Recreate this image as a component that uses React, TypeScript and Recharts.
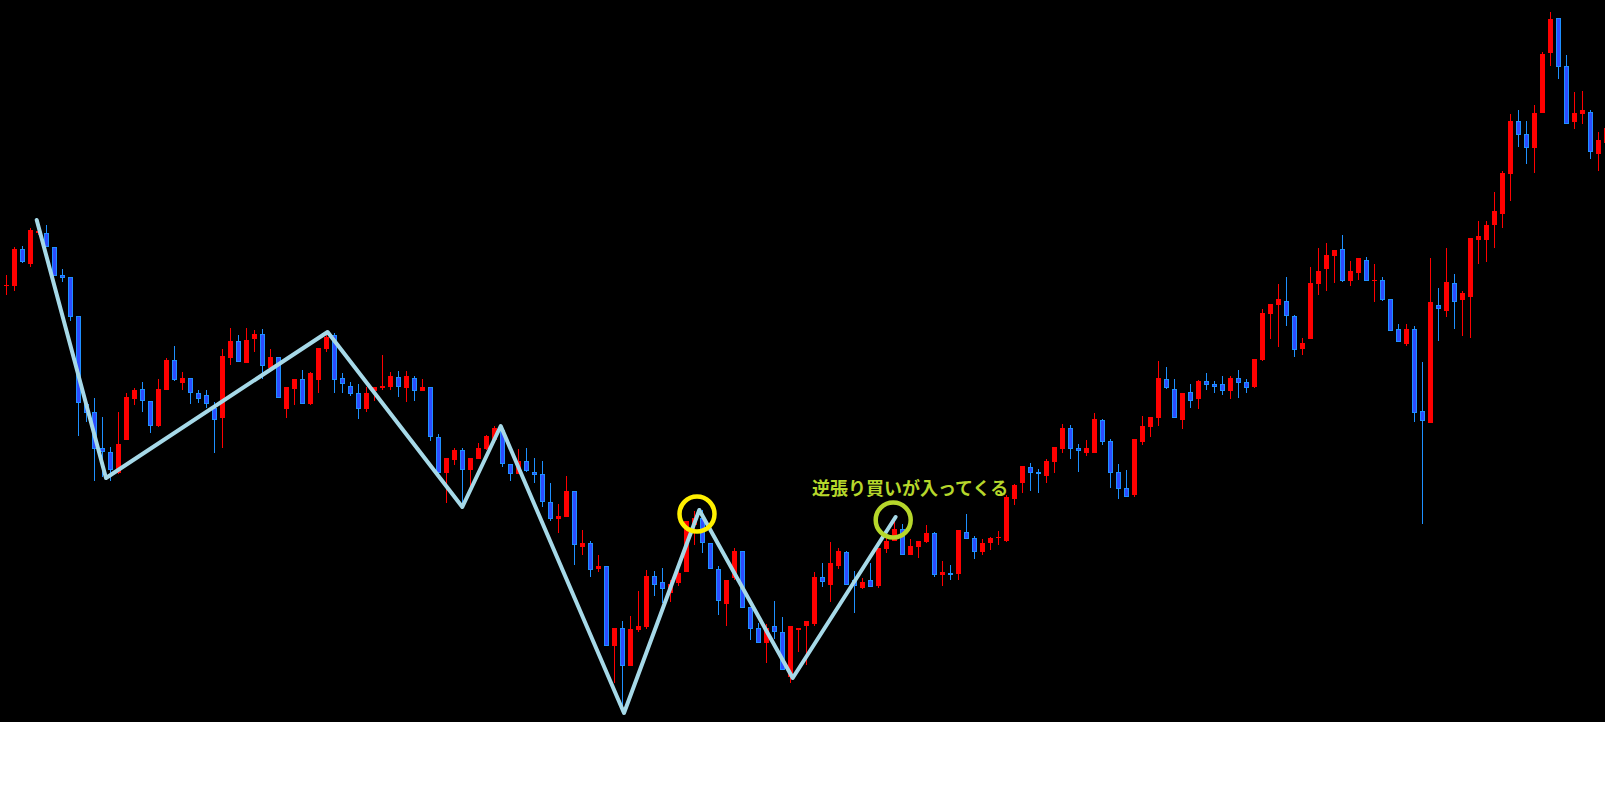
import { Bar, ComposedChart, ReferenceDot, Scatter, XAxis, YAxis } from "recharts";

// candle index 0..200, prices
const opens = [
  436, 436, 473, 458, 489, 489, 475, 447, 445, 406,
  318, 310, 274, 270, 249, 282, 323, 333, 321, 296,
  332, 362, 339, 344, 329, 327, 314, 304, 364, 381,
  359, 383, 388, 354, 365, 313, 333, 343, 318, 342,
  373, 387, 344, 336, 329, 313, 331, 334, 335, 345,
  334, 344, 331, 335, 285, 249, 262, 272, 252, 263,
  273, 282, 292, 258, 248, 261, 250, 248, 220, 203,
  205, 231, 175, 179, 153, 156, 76, 94, 56, 92,
  95, 146, 140, 129, 139, 150, 197, 204, 179, 153,
  118, 144, 171, 115, 94, 79, 96, 90, 45, 92,
  96, 98, 145, 137, 156, 170, 142, 134, 142, 136,
  173, 181, 193, 167, 175, 180, 189, 147, 149, 148,
  190, 184, 170, 179, 184, 181, 223, 239, 255, 250,
  246, 260, 273, 294, 274, 269, 269, 302, 281, 250,
  234, 227, 280, 295, 304, 343, 333, 302, 330, 323,
  341, 338, 338, 331, 344, 340, 335, 362, 408, 417,
  421, 406, 373, 383, 438, 453, 466, 473, 441, 449,
  462, 441, 442, 423, 393, 378, 393, 311, 299, 417,
  411, 439, 422, 425, 482, 482, 497, 508, 548, 601,
  588, 574, 609, 669, 704, 656, 600, 608, 610, 568,
  579,
];

const highs = [
  447, 475, 476, 494, 501, 497, 475, 453, 445, 406,
  319, 324, 305, 275, 310, 329, 334, 340, 321, 343,
  364, 376, 350, 344, 332, 332, 320, 373, 394, 387,
  394, 392, 393, 373, 365, 335, 343, 352, 350, 374,
  389, 389, 349, 340, 338, 335, 335, 367, 350, 351,
  351, 346, 343, 335, 288, 264, 274, 274, 264, 279,
  287, 296, 294, 258, 273, 274, 264, 261, 239, 218,
  246, 231, 192, 181, 167, 156, 94, 101, 106, 131,
  152, 151, 154, 142, 152, 201, 211, 212, 179, 156,
  142, 174, 171, 115, 99, 98, 121, 105, 96, 94,
  101, 150, 159, 180, 174, 171, 151, 144, 159, 174,
  185, 200, 198, 183, 181, 197, 190, 161, 157, 192,
  208, 186, 183, 185, 191, 227, 238, 256, 259, 253,
  263, 275, 298, 297, 278, 282, 309, 303, 283, 258,
  252, 283, 306, 305, 361, 355, 343, 329, 338, 342,
  349, 341, 346, 346, 352, 343, 363, 413, 418, 438,
  445, 407, 384, 455, 474, 479, 472, 487, 461, 464,
  465, 458, 445, 423, 398, 398, 396, 360, 464, 434,
  474, 448, 431, 484, 501, 501, 530, 551, 608, 612,
  601, 617, 670, 710, 704, 667, 630, 631, 612, 590,
  597,
];

const lows = [
  427, 431, 459, 455, 487, 475, 446, 440, 401, 286,
  300, 241, 245, 241, 248, 282, 317, 310, 289, 295,
  332, 341, 332, 318, 319, 314, 269, 274, 357, 360,
  359, 370, 343, 350, 324, 304, 317, 318, 317, 329,
  370, 329, 329, 326, 303, 310, 321, 332, 332, 325,
  320, 321, 331, 281, 248, 219, 257, 215, 236, 263,
  272, 282, 255, 241, 248, 250, 239, 215, 201, 189,
  205, 157, 167, 145, 150, 76, 39, 9, 56, 90,
  93, 126, 119, 120, 136, 150, 177, 169, 153, 107,
  96, 142, 114, 82, 79, 59, 83, 52, 39, 70,
  57, 96, 135, 120, 153, 137, 109, 133, 135, 134,
  169, 181, 167, 167, 164, 179, 145, 136, 142, 142,
  183, 163, 167, 172, 177, 180, 217, 229, 231, 229,
  239, 249, 269, 263, 250, 266, 269, 277, 234, 223,
  225, 225, 277, 285, 296, 333, 304, 293, 314, 313,
  332, 329, 327, 323, 324, 329, 334, 361, 383, 375,
  396, 365, 367, 383, 427, 431, 439, 440, 436, 442,
  441, 420, 421, 391, 380, 376, 300, 198, 299, 381,
  405, 393, 386, 384, 458, 460, 474, 494, 521, 575,
  558, 549, 609, 656, 643, 598, 593, 598, 563, 551,
  577,
];

const closes = [
  437, 473, 460, 492, 491, 475, 446, 444, 405, 319,
  309, 273, 270, 252, 278, 325, 332, 321, 296, 333,
  362, 342, 344, 329, 323, 318, 302, 366, 381, 360,
  382, 388, 356, 365, 324, 335, 343, 318, 349, 374,
  385, 342, 338, 328, 313, 329, 335, 336, 346, 335,
  346, 331, 335, 285, 249, 264, 272, 252, 264, 274,
  286, 294, 258, 248, 261, 251, 247, 220, 203, 206,
  231, 177, 179, 152, 156, 76, 94, 56, 93, 96,
  146, 137, 133, 138, 149, 201, 204, 179, 153, 121,
  142, 171, 114, 93, 79, 94, 90, 52, 96, 94,
  101, 145, 140, 159, 171, 137, 136, 140, 135, 174,
  181, 193, 167, 176, 181, 189, 147, 150, 147, 192,
  183, 170, 179, 184, 185, 225, 237, 256, 249, 248,
  261, 275, 294, 273, 271, 274, 303, 280, 249, 233,
  225, 283, 296, 305, 344, 334, 304, 329, 321, 341,
  337, 335, 331, 344, 339, 334, 363, 409, 418, 423,
  406, 372, 379, 439, 451, 467, 472, 441, 451, 464,
  441, 442, 422, 391, 380, 393, 309, 301, 420, 413,
  440, 420, 429, 484, 486, 497, 511, 549, 601, 587,
  574, 609, 668, 703, 655, 598, 609, 612, 570, 582,
  594,
];

// zigzag turning points (candle position, price)
const zigX = [3.84, 12.5, 40.2, 57.04, 61.84, 77.25, 86.66, 98.34, 111.2];
const zigP = [502, 244, 390, 215, 296, 9, 212, 44, 205];

// highlighted spots
const markX = [86.375, 110.9];
const markP = [208, 202];

const note = "逆張り買いが入ってくる";

const UP = "#ff0000";
const DOWN_FILL = "#2d4cff";
const DOWN_EDGE = "#1e90ff";
const ZIG = "#a6d9e8";
const YELLOW = "#fff000";
const LIME = "#b6d72b";

const candles = opens.map((o, i) => ({
  k: i,
  o,
  h: highs[i],
  l: lows[i],
  c: closes[i],
  range: [lows[i], highs[i]],
}));

const zigzag = zigX.map((k, i) => ({ k, p: zigP[i] }));

function Candle(props: any) {
  const { x, y, width, height, payload } = props;
  if (!payload || x == null || y == null) return <g />;
  const { o, h, l, c } = payload;
  const top = Math.min(y, y + height);
  const bottom = Math.max(y, y + height);
  const unit = h > l ? (bottom - top) / (h - l) : 0;
  const yAt = (v: number) => top + (h - v) * unit;
  const cx = Math.round(x + width / 2);
  const up = c >= o;
  const bTop = Math.round(yAt(Math.max(o, c)));
  const bBot = Math.max(bTop + 1, Math.round(yAt(Math.min(o, c))));
  const wTop = Math.round(top);
  const wBot = Math.max(wTop + 1, Math.round(bottom));
  return (
    <g>
      <rect x={cx} y={wTop} width={1} height={wBot - wTop} fill={up ? UP : DOWN_EDGE} />
      {up ? (
        <rect x={cx - 2} y={bTop} width={5} height={bBot - bTop} fill={UP} />
      ) : (
        <rect
          x={cx - 1.5}
          y={bTop + 0.5}
          width={4}
          height={Math.max(0.5, bBot - bTop - 1)}
          fill={DOWN_FILL}
          stroke={DOWN_EDGE}
          strokeWidth={1}
        />
      )}
    </g>
  );
}

export default function App() {
  return (
    <div style={{ position: "relative", width: 1605, height: 722, background: "#000" }}>
      <style>{"body{margin:0}"}</style>
      <ComposedChart width={1605} height={722} data={candles} margin={{ top: 0, right: 0, bottom: 0, left: 0 }}>
        <XAxis dataKey="k" type="number" domain={[-0.75, 199.875]} hide allowDataOverflow />
        <YAxis type="number" domain={[0, 722]} hide allowDataOverflow />
        <Bar dataKey="range" barSize={5} shape={Candle} isAnimationActive={false} />
        <Scatter
          data={zigzag}
          dataKey="p"
          line={{ stroke: ZIG, strokeWidth: 4, strokeLinejoin: "round", strokeLinecap: "round" }}
          shape={() => <g />}
          isAnimationActive={false}
        />
        <ReferenceDot x={markX[0]} y={markP[0]} r={17.5} fill="none" stroke={YELLOW} strokeWidth={4.5} />
        <ReferenceDot x={markX[1]} y={markP[1]} r={17.5} fill="none" stroke={LIME} strokeWidth={4.5} />
      </ComposedChart>
      <div
        style={{
          position: "absolute",
          left: 812,
          top: 478,
          fontFamily: "'Noto Sans CJK JP', sans-serif",
          fontWeight: 700,
          fontSize: 18,
          lineHeight: "18px",
          color: LIME,
          whiteSpace: "nowrap",
        }}
      >
        {note}
      </div>
    </div>
  );
}
